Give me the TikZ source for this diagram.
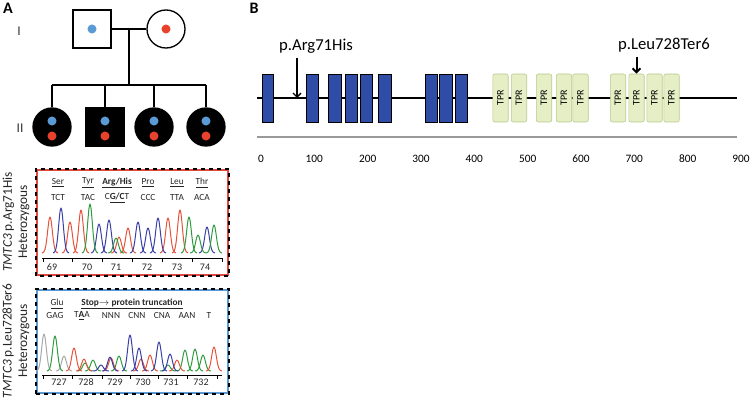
\documentclass[tikz,border=0pt]{standalone}
\usepackage{fontspec}
\setmainfont{Carlito}
\usetikzlibrary{arrows.meta}
\definecolor{pedblue}{HTML}{5B9BD5}
\definecolor{pedred}{HTML}{E8412C}
\definecolor{tred}{HTML}{E5533C}
\definecolor{tblue}{HTML}{3B3FA6}
\definecolor{tgreen}{HTML}{2E9B3E}
\definecolor{tgray}{HTML}{A8A8A8}
\definecolor{domblue}{HTML}{2F4DA6}
\definecolor{tprfill}{HTML}{E6EEC5}
\definecolor{tprline}{HTML}{B8C98C}
\definecolor{boxred}{HTML}{E04A3A}
\definecolor{boxblue}{HTML}{5A9BD4}

\begin{document}
\begin{tikzpicture}[x=0.75pt,y=-0.75pt]
    \tikzstyle{male}=[draw,line width=1pt,minimum size=28.5pt,inner sep=0pt]
    \tikzstyle{female}=[male,circle]
    \tikzstyle{affected}=[fill=black]
    \tikzstyle{allele}=[circle,minimum size=6.8pt,inner sep=0pt]
    \tikzstyle{ped}=[line width=1pt]
    \tikzstyle{panel}=[font=\fontsize{12}{14}\selectfont\bfseries]
    \tikzstyle{gen}=[text=black!80,font=\fontsize{10}{12}\selectfont]
    \tikzstyle{chrombox}=[line width=1.5pt,minimum width=143.25pt,inner sep=0pt]
    \tikzstyle{boxdash}=[line width=1.5pt,dash pattern=on 3pt off 3pt]
    \tikzstyle{sidelab}=[rotate=90,align=center,text=black!85,font=\fontsize{10}{11.5}\selectfont]
    \tikzstyle{aa}=[inner sep=0pt,text=black!85,font=\fontsize{7}{8}\selectfont]
    \tikzstyle{codon}=[aa]
    \tikzstyle{poslab}=[inner sep=0pt,text=black!85,font=\fontsize{7.5}{8}\selectfont]
    \tikzstyle{trace}=[line width=0.75pt,line join=round]
    \tikzstyle{dom}=[fill=domblue]
    \tikzstyle{tpr}=[draw=tprline,fill=tprfill,rounded corners=1.5pt,rotate=90,minimum width=36pt,minimum height=11.6pt,inner sep=0pt,font=\fontsize{7.5}{8}\selectfont]
    \tikzstyle{mutlab}=[font=\fontsize{12.5}{14}\selectfont]
    \tikzstyle{mutarrow}=[line width=1pt,-{Straight Barb[length=3pt,width=6pt]}]
    \tikzstyle{scalelab}=[font=\fontsize{8.5}{10}\selectfont]

    \useasboundingbox (0,0) rectangle (750,403);

    % panel A: pedigree
    \node[panel] (labA) at (8,8) {A};
    \node[gen] (genI) at (19,31) {I};
    \node[gen] (genII) at (20,128) {II};

    \node[male] (father) at (92,29) {};
    \node[female] (mother) at (166,29) {};
    \node[allele,fill=pedblue] (father-a) at (father) {};
    \node[allele,fill=pedred] (mother-a) at (mother) {};
    \coordinate (mid) at (129,29);
    \coordinate (sib) at (129,85);
    \draw[ped] (father) -- (mother);
    \draw[ped] (mid) -- (sib);

    \foreach \n/\cx in {c1/52,c3/154,c4/206} \node[female,affected] (\n) at (\cx,127) {};
    \node[male,affected] (c2) at (105,127) {};
    \draw[ped] (sib -| c1) -- (sib -| c4);
    \foreach \n in {c1,c2,c3,c4} {
        \node[allele,fill=pedblue] (\n-a) at ([yshift=4.5pt]\n) {};
        \node[allele,fill=pedred] (\n-b) at ([yshift=-6.75pt]\n) {};
        \draw[ped] (sib -| \n) -- (\n.north);
    }

    % chromatogram p.Arg71His
    \node[chrombox,draw=boxred,minimum height=78.75pt] (chromA) at (132.5,222.5) {};
    \draw[boxdash] (chromA.south west) rectangle (chromA.north east);
    \node[sidelab] (sideA) at (16,222) {\textit{TMTC3} p.Arg71His\\Heterozygous};

    \foreach \c/\aa/\cod in {58/Ser/TCT,88/Tyr/TAC,148/Pro/CCC,177/Leu/TTA,202/Thr/ACA} {
        \node[aa] (aa\c) at (\c,183) {\underline{\aa}};
        \node[codon] (cod\c) at (\c,198) {\cod};
    }
    \node[aa] (aa117) at (117,183) {\textbf{\underline{Arg/His}}};
    \node[codon] (cod117) at (117,198) {C\textbf{\underline{G/C}}T};

    \foreach \c/\t in {50/217,70/222,81/210,119/237,128/228,168/218,180/210}
        \draw[trace,tred] plot[domain=\c-8:\c+8,samples=17,smooth] (\x,{253-(253-\t)*exp(-(\x-\c)*(\x-\c)/11)});
    \foreach \c/\t in {61/208,99/224,109/220,138/222,148/228,158/218,207/227}
        \draw[trace,tblue] plot[domain=\c-8:\c+8,samples=17,smooth] (\x,{253-(253-\t)*exp(-(\x-\c)*(\x-\c)/11)});
    \foreach \c/\t in {90/204,116/238,189/217,198/235,214/225}
        \draw[trace,tgreen] plot[domain=\c-8:\c+8,samples=17,smooth] (\x,{253-(253-\t)*exp(-(\x-\c)*(\x-\c)/11)});

    \coordinate (axA0) at (42,258);
    \coordinate (axA1) at (223,258);
    \draw[line width=0.6pt] (axA0) -- (axA1);
    \foreach \tx in {43,72,102,132,162,192,222} \draw[line width=0.6pt] (\tx,258) -- (\tx,262);
    \foreach \c/\num in {52/69,87/70,116/71,147/72,177/73,205/74} \node[poslab] (numA\num) at (\c,267) {\num};

    % chromatogram p.Leu728Ter6
    \node[chrombox,draw=boxblue,minimum height=77.25pt] (chromB) at (132.5,341.5) {};
    \draw[boxdash] (chromB.south west) rectangle (chromB.north east);
    \node[sidelab] (sideB) at (16,341) {\textit{TMTC3} p.Leu728Ter6\\Heterozygous};

    \node[aa] (glu) at (57,304) {\underline{Glu}};
    \node[aa] (stop) at (132,304) {\textbf{\underline{Stop$\rightarrow$ protein truncation}}};
    \foreach \c/\cod in {55/GAG,111/NNN,137/CNN,162/CNA,187/AAN,209/T}
        \node[codon] (codB\c) at (\c,316) {\cod};
    \node[codon] (codB82) at (82,316) {T\textbf{\underline{A}}A};

    \foreach \c/\t in {44/334,64/356}
        \draw[trace,tgray] plot[domain=\c-8:\c+8,samples=17,smooth] (\x,{371-(371-\t)*exp(-(\x-\c)*(\x-\c)/11)});
    \foreach \c/\t in {55/336,85/363,93/360,119/356,168/365,185/350,195/349,203/355}
        \draw[trace,tgreen] plot[domain=\c-8:\c+8,samples=17,smooth] (\x,{371-(371-\t)*exp(-(\x-\c)*(\x-\c)/11)});
    \foreach \c/\t in {74/348,84/359,111/358,141/359,150/355,177/360,214/347}
        \draw[trace,tred] plot[domain=\c-8:\c+8,samples=17,smooth] (\x,{371-(371-\t)*exp(-(\x-\c)*(\x-\c)/11)});
    \foreach \c/\t in {101/365,110/357,130/335,139/348,159/342,170/354}
        \draw[trace,tblue] plot[domain=\c-8:\c+8,samples=17,smooth] (\x,{371-(371-\t)*exp(-(\x-\c)*(\x-\c)/11)});

    \coordinate (axB0) at (42,375);
    \coordinate (axB1) at (222,375);
    \draw[line width=0.6pt] (axB0) -- (axB1);
    \foreach \tx in {43,72,102,130,158,187,217} \draw[line width=0.6pt] (\tx,375) -- (\tx,379);
    \foreach \c/\num in {59/727,86/728,115/729,143/730,171/731,201/732} \node[poslab] (numB\num) at (\c,382) {\num};

    % panel B: protein
    \node[panel] (labB) at (254,8) {B};
    \coordinate (nterm) at (257,98);
    \coordinate (cterm) at (737,98);
    \draw[line width=1.3pt] (nterm) -- (cterm);
    \foreach \a/\b in {262/273,306/318,328/341,345/357,360/372,378/391,425/437,439/452,455/467}
        \draw[dom] (\a,74) rectangle (\b,122);
    \foreach \c [count=\i] in {500.5,519,544,564,580.5,618,636.5,654.5,671.5}
        \node[tpr] (tpr\i) at (\c,98) {TPR};

    \node[mutlab] (arg) at (316,46) {p.Arg71His};
    \coordinate (argpos) at (297,98);
    \draw[mutarrow] (arg.south -| argpos) -- (argpos);
    \node[mutlab] (leu) at (664,45) {p.Leu728Ter6};
    \draw[mutarrow,line width=1.5pt] (leu.south -| tpr7) -- (tpr7.east);

    \coordinate (scale0) at (257,137);
    \coordinate (scale1) at (737,137);
    \draw[line width=1.5pt,black!40] (scale0) -- (scale1);
    \foreach \v in {0,100,...,900} \node[scalelab] (n\v) at ({261+0.5333*\v},159) {\v};

  \end{tikzpicture}
\end{document}
